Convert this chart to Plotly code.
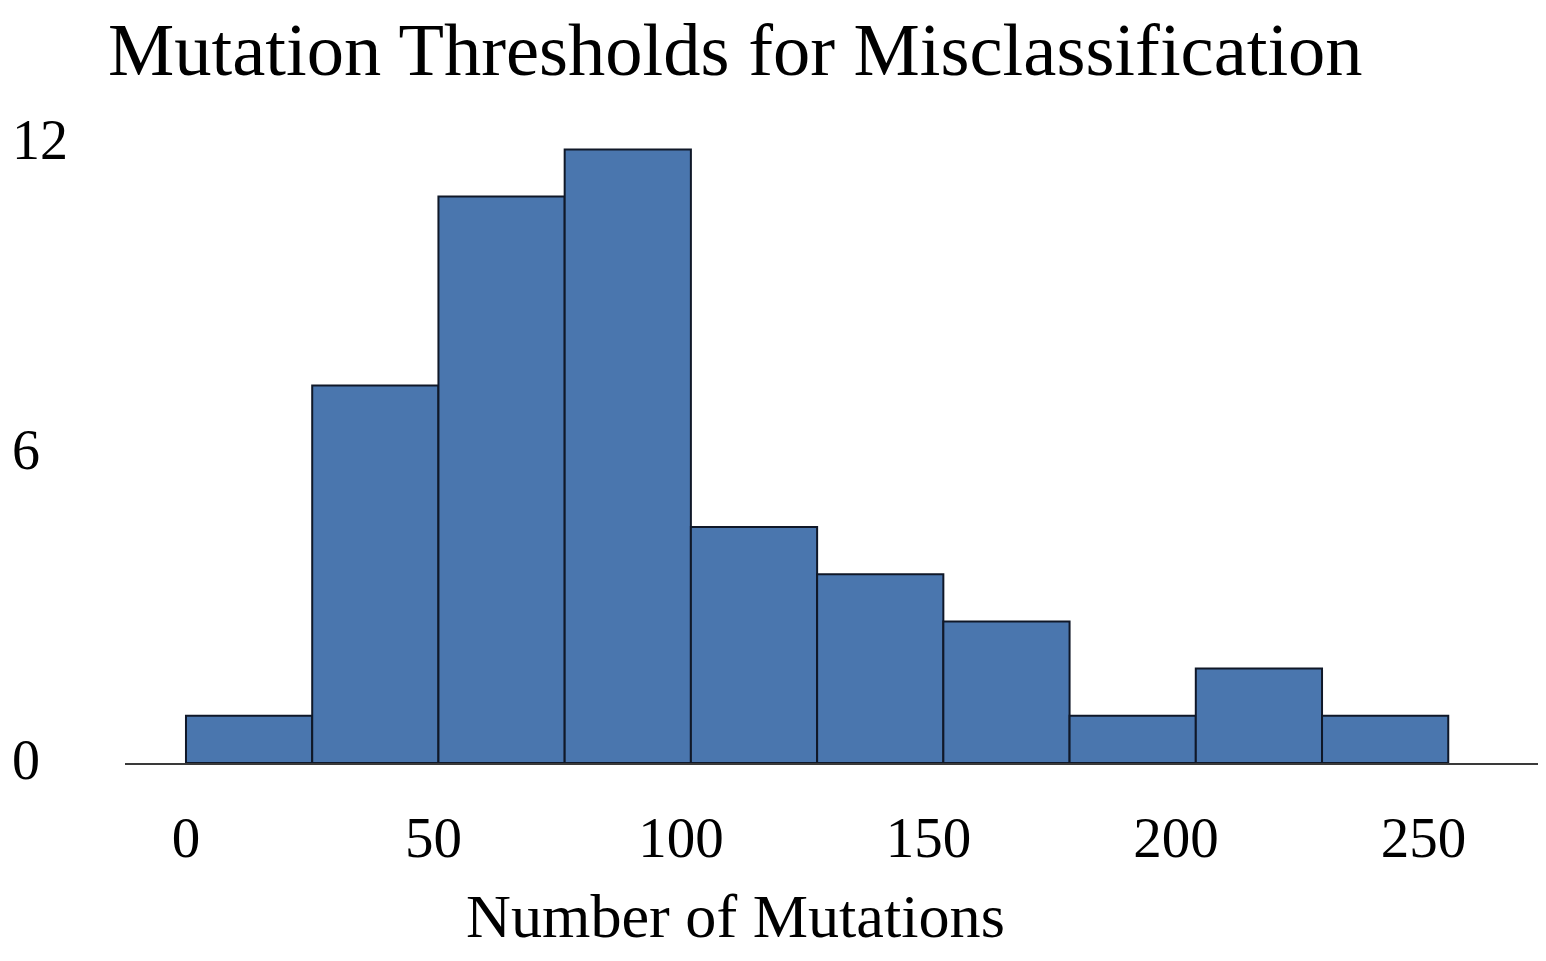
import plotly.graph_objects as go

# ---- data ----
bin_left_edges = [0, 25.5, 51, 76.5, 102, 127.5, 153, 178.5, 204, 229.5]
bin_width = 25.5
counts = [1, 8, 12, 13, 5, 4, 3, 1, 2, 1]
x_tick_vals = [0, 50, 100, 150, 200, 250]
x_tick_text = ["0", "50", "100", "150", "200", "250"]
y_tick_vals = [0, 6, 12]
y_tick_text = ["0", "6", "12"]

title_text = "Mutation Thresholds for Misclassification"
x_title_text = "Number of Mutations"

FONT = "Liberation Serif, Times New Roman, serif"

fig = go.Figure()
fig.add_trace(go.Bar(
    x=bin_left_edges,
    y=counts,
    width=[bin_width] * len(counts),
    offset=0,
    marker=dict(color="#4a76ae", line=dict(color="#101828", width=2)),
    showlegend=False,
    hoverinfo="x+y",
))
# helper trace so the label axis is drawn
fig.add_trace(go.Scatter(x=[None], y=[None], yaxis="y2", showlegend=False,
                         hoverinfo="skip", mode="markers"))

# figure sized so the page (with default 8px body margin) fits the window
W, H = 1530, 945
ml, mr, mt, mb = 0, 0, 102, 190
plot_left_px = 117
d0 = plot_left_px / W
ph = H - mt - mb

fig.update_layout(
    width=W, height=H,
    margin=dict(l=ml, r=mr, t=mt, b=mb, pad=0),
    paper_bgcolor="white", plot_bgcolor="white",
    font=dict(family=FONT, color="black"),
    title=dict(text=title_text, font=dict(family=FONT, size=74.5, color="black"),
               xref="container", x=100 / W, xanchor="left",
               yref="container", y=1 - 41 / H, yanchor="middle"),
    xaxis=dict(domain=[d0, 1], range=[-12.32, 273.13],
               tickvals=x_tick_vals, ticktext=x_tick_text,
               ticks="", showgrid=False, zeroline=False,
               showline=True, linecolor="#3a3a3a", linewidth=1.5,
               tickfont=dict(family=FONT, size=57, color="black"),
               ticklabelstandoff=24),
    yaxis=dict(range=[0, 13.835], visible=False, showgrid=False, zeroline=False),
    yaxis2=dict(overlaying="y", anchor="free", position=0, side="left",
                range=[-0.0775, 12.571], tickvals=y_tick_vals, ticktext=y_tick_text,
                ticks="", showgrid=False, zeroline=False, showline=False,
                ticklabelposition="inside", ticklabeloverflow="allow",
                tickfont=dict(family=FONT, size=56, color="black")),
    annotations=[dict(text=x_title_text, xref="paper", yref="paper",
                      x=727 / W, y=-(944 - 755) / ph,
                      xanchor="center", yanchor="bottom", showarrow=False,
                      font=dict(family=FONT, size=62.2, color="black"))],
)

fig.write_html("out.html")
